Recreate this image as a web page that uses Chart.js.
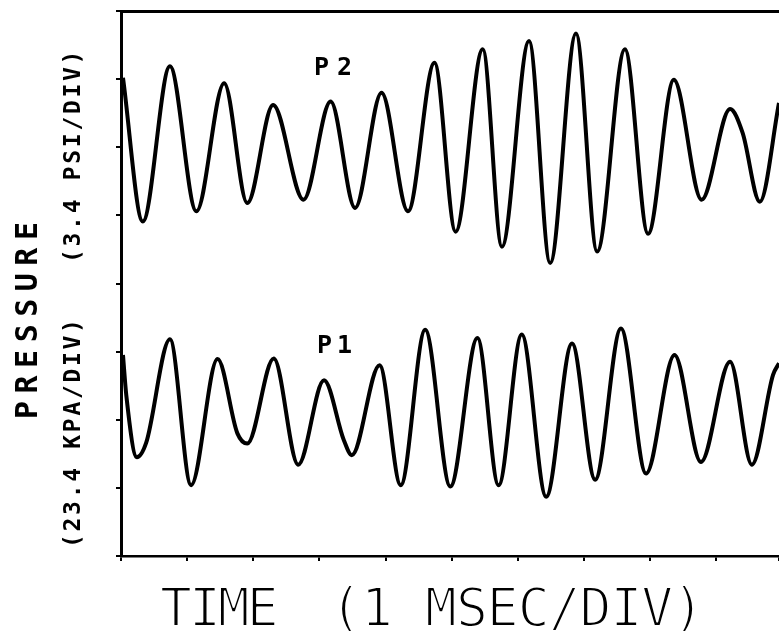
<!DOCTYPE html>
<html lang="en">
<head>
  <meta charset="UTF-8">
  <title>Pressure traces P1 / P2</title>
  <script src="https://cdn.jsdelivr.net/npm/chart.js"></script>
  <style>
    body {
      margin: 0;
      background: #fff;
    }
    canvas {
      display: block;
    }
  </style>
</head>
<body>
  <canvas id="pressureChart" width="779" height="631"></canvas>

  <script>
    // Traces read in divisions: time in msec (1 per div), pressure in divisions
    const p2Time  = [0.03, 0.33, 0.74, 1.14, 1.56, 1.91, 2.30, 2.76, 3.17, 3.54, 3.94, 4.34, 4.74, 5.06, 5.47, 5.76,
                     6.17, 6.49, 6.88, 7.20, 7.62, 7.97, 8.36, 8.78, 9.21, 9.40, 9.66, 9.95];
    const p2Level = [7.02, 4.91, 7.19, 5.06, 6.94, 5.18, 6.62, 5.23, 6.67, 5.11, 6.80, 5.06, 7.24, 4.76, 7.44, 4.54,
                     7.56, 4.30, 7.67, 4.47, 7.44, 4.73, 6.99, 5.23, 6.56, 6.21, 5.20, 6.65];

    const p1Time  = [0.03, 0.08, 0.24, 0.38, 0.74, 1.06, 1.46, 1.76, 1.91, 2.31, 2.68, 3.07, 3.37, 3.49, 3.91, 4.23,
                     4.60, 4.98, 5.39, 5.71, 6.06, 6.43, 6.82, 7.17, 7.56, 7.94, 8.37, 8.77, 9.21, 9.54, 9.86, 9.95];
    const p1Level = [2.95, 2.36, 1.45, 1.66, 3.18, 1.04, 2.89, 1.80, 1.65, 2.90, 1.34, 2.58, 1.70, 1.48, 2.80, 1.04,
                     3.32, 1.02, 3.20, 1.04, 3.25, 0.87, 3.12, 1.12, 3.34, 1.21, 2.95, 1.38, 2.85, 1.34, 2.66, 2.83];

    const seriesNames = ['P2', 'P1'];
    const timeDivs = 9.95;
    const pressureDivs = 8;

    const toPoints = (xs, ys) => xs.map((x, i) => ({ x: x, y: ys[i] }));

    // thin plotter-pen lettering: fill, then shave the edges with a white outline
    function penText(ctx, text, x, y, shave) {
      ctx.fillText(text, x, y);
      if (shave) {
        ctx.save();
        ctx.strokeStyle = '#fff';
        ctx.lineWidth = shave;
        ctx.lineJoin = 'round';
        ctx.strokeText(text, x, y);
        ctx.restore();
      }
    }

    function verticalText(ctx, text, x, y, font, spacing) {
      ctx.save();
      ctx.translate(x, y);
      ctx.rotate(-Math.PI / 2);
      ctx.font = font;
      ctx.letterSpacing = spacing;
      ctx.fillText(text, 0, 0);
      ctx.restore();
    }

    // Axis titles and trace names
    const plotterText = {
      id: 'plotterText',
      afterDraw(chart) {
        const ctx = chart.ctx;
        ctx.save();
        ctx.fillStyle = '#000';
        ctx.textAlign = 'left';
        ctx.textBaseline = 'alphabetic';

        // x axis title
        ctx.font = '53px "DejaVu Sans Mono"';
        ctx.letterSpacing = '-3px';
        penText(ctx, 'TIME', 160, 626, 2);
        ctx.letterSpacing = '-1px';
        penText(ctx, '(1', 330, 626, 2);
        penText(ctx, 'MSEC/DIV)', 425, 626, 2);

        // y axis titles
        verticalText(ctx, 'PRESSURE', 37, 419, 'bold 30px "DejaVu Sans Mono"', '7.5px');
        verticalText(ctx, '(23.4 KPA/DIV)', 80, 548, 'bold 23px "DejaVu Sans Mono"', '2.7px');
        verticalText(ctx, '(3.4 PSI/DIV)', 80, 263, 'bold 23px "DejaVu Sans Mono"', '2.7px');

        // trace names
        ctx.font = 'bold 25px "DejaVu Sans Mono"';
        ctx.letterSpacing = '8px';
        ctx.fillText(seriesNames[0], 314, 75);
        ctx.letterSpacing = '5px';
        ctx.fillText(seriesNames[1], 317, 353);
        ctx.restore();
      }
    };

    const tickGrid = {
      drawOnChartArea: false,
      drawTicks: true,
      tickLength: 5,
      color: '#000',
      lineWidth: 2
    };

    const ctx = document.getElementById('pressureChart').getContext('2d');
    const chart = new Chart(ctx, {
      type: 'line',
      data: {
        datasets: [{
          label: seriesNames[0],
          data: toPoints(p2Time, p2Level),
          borderColor: '#000',
          borderWidth: 4,
          cubicInterpolationMode: 'monotone',
          pointRadius: 0,
          fill: false
        }, {
          label: seriesNames[1],
          data: toPoints(p1Time, p1Level),
          borderColor: '#000',
          borderWidth: 4,
          cubicInterpolationMode: 'monotone',
          pointRadius: 0,
          fill: false
        }]
      },
      options: {
        responsive: false,
        animation: false,
        layout: { padding: 0 },
        plugins: {
          legend: { display: false },
          tooltip: { enabled: false }
        },
        scales: {
          x: {
            type: 'linear',
            position: 'bottom',
            min: 0,
            max: timeDivs,
            ticks: { stepSize: 1, display: false },
            grid: tickGrid,
            border: { color: '#000', width: 2.5 },
            afterFit(scale) { scale.height = 75; }
          },
          xTop: {
            type: 'linear',
            position: 'top',
            min: 0,
            max: timeDivs,
            ticks: { display: false },
            grid: { display: false },
            border: { color: '#000', width: 3 },
            afterFit(scale) { scale.height = 11; }
          },
          y: {
            type: 'linear',
            position: 'left',
            min: 0,
            max: pressureDivs,
            ticks: { stepSize: 1, display: false },
            grid: tickGrid,
            border: { color: '#000', width: 3 },
            afterFit(scale) { scale.width = 121; }
          }
        }
      },
      plugins: [plotterText]
    });
  </script>
</body>
</html>
